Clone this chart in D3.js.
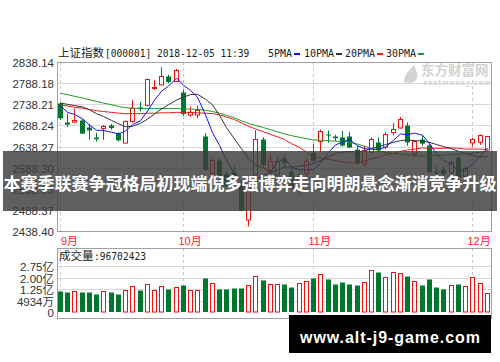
<!DOCTYPE html>
<html>
<head>
<meta charset="utf-8">
<script src="https://cdnjs.cloudflare.com/ajax/libs/d3/7.8.5/d3.min.js"></script>
<style>
  body { margin: 0; background: #fff; }
  svg { display: block; }
  text { font-family: "Liberation Sans", Arial, "Noto Sans CJK SC", sans-serif; }
</style>
</head>
<body>
<div id="canvas"></div>
<script>
"use strict"

/* Configuration variables: drawing */
let svgWidth = 500;
let svgHeight = 362;
let left = 57, right = 491;
let priceTop = 62, priceBottom = 231;
let volTop = 248, volBottom = 312;

/* Trading days shown (MM-DD) */
let dates = ["09-05","09-06","09-07","09-10","09-11","09-12","09-13","09-14","09-17","09-18",
             "09-19","09-20","09-21","09-25","09-26","09-27","09-28",
             "10-08","10-09","10-10","10-11","10-12","10-15","10-16","10-17","10-18","10-19",
             "10-22","10-23","10-24","10-25","10-26","10-29","10-30","10-31",
             "11-01","11-02","11-05","11-06","11-07","11-08","11-09","11-12","11-13","11-14",
             "11-15","11-16","11-19","11-20","11-21","11-22","11-23","11-26","11-27","11-28",
             "11-29","11-30","12-03","12-04","12-05"];

/* Candles (index points) */
let opens  = [2740,2697,2698,2701,2684,2660,2682,2689,2670,2648,2698,2731,2736,2778,2786,2805,2794,
              2768,2715,2714,2662,2576,2606,2574,2578,2551,2466,2571,2655,2582,2572,2608,2580,2540,2575,
              2625,2652,2667,2663,2660,2662,2632,2598,2625,2650,2638,2672,2683,2690,2622,2656,2642,2580,
              2585,2578,2614,2570,2647,2650,2630];
let highs  = [2743,2716,2728,2703,2692,2671,2689,2692,2672,2700,2748,2744,2799,2795,2826,2808,2822,
              2773,2733,2735,2670,2613,2610,2580,2592,2555,2560,2677,2660,2620,2612,2620,2590,2575,2610,
              2645,2678,2676,2666,2675,2673,2640,2640,2660,2660,2672,2694,2708,2695,2653,2665,2648,2594,
              2590,2605,2616,2592,2659,2667,2663];
let lows   = [2701,2684,2696,2668,2655,2650,2654,2678,2650,2646,2695,2721,2733,2772,2783,2788,2791,
              2711,2709,2705,2580,2570,2563,2540,2555,2485,2449,2565,2590,2575,2560,2585,2536,2525,2560,
              2600,2626,2647,2651,2638,2634,2595,2590,2620,2625,2632,2664,2680,2640,2614,2640,2575,2570,
              2567,2570,2558,2560,2638,2642,2628];
let closes = [2705,2692,2702,2670,2677,2656,2687,2683,2654,2699,2729,2727,2797,2780,2806,2792,2820,
              2717,2721,2725,2583,2607,2568,2546,2562,2487,2550,2655,2595,2603,2604,2599,2542,2568,2603,
              2606,2676,2665,2659,2641,2636,2599,2630,2655,2632,2668,2679,2703,2650,2651,2646,2579,2576,
              2575,2602,2567,2588,2655,2666,2662];

/* Volume, in 亿 */
let volumes = [1.14,1.07,1.12,1.07,1.07,0.95,1.12,1.07,0.95,1.18,1.44,1.18,1.61,1.18,1.44,1.27,1.38,
               1.51,1.18,1.18,2.00,1.67,1.27,1.27,1.31,1.31,1.51,2.11,1.83,1.61,1.61,1.61,1.40,1.67,1.80,
               2.00,2.22,1.93,1.61,1.74,1.61,1.54,1.74,2.47,2.34,2.04,2.34,2.28,2.11,1.80,1.51,1.93,1.40,
               1.27,1.51,1.57,1.44,2.04,1.67,1.01];

/* Moving averages */
let ma5  = [2735,2719,2714,2704,2689,2677,2676,2672,2668,2675,2690,2699,2722,2748,2769,2781,2800,
            2783,2771,2755,2713,2671,2641,2606,2573,2554,2543,2560,2570,2578,2601,2611,2589,2583,2583,
            2584,2599,2624,2642,2649,2655,2640,2633,2632,2631,2637,2653,2668,2666,2670,2665,2645,2620,
            2606,2596,2580,2582,2597,2616,2635];
let ma10 = [2741,2738,2735,2732,2725,2716,2709,2700,2692,2685,2686,2693,2703,2715,2727,2737,2748,
            2755,2761,2762,2750,2737,2712,2683,2656,2633,2610,2594,2588,2576,2582,2590,2590,2592,2594,
            2598,2605,2614,2622,2625,2626,2625,2628,2634,2637,2643,2648,2652,2654,2652,2651,2648,2643,
            2638,2633,2627,2622,2617,2614,2614];
let ma20 = [2736,2734,2731,2729,2726,2723,2721,2719,2717,2716,2716,2716,2717,2717,2718,2718,2719,
            2719,2719,2718,2717,2716,2713,2708,2702,2694,2686,2680,2673,2667,2661,2655,2645,2636,2625,
            2613,2611,2608,2605,2602,2599,2601,2604,2609,2613,2619,2622,2627,2630,2632,2635,2634,2634,
            2634,2635,2634,2632,2632,2632,2631];
let ma30 = [2764,2761,2757,2753,2749,2745,2741,2737,2733,2730,2729,2728,2728,2728,2728,2728,2728,
            2727,2727,2726,2724,2721,2717,2712,2706,2699,2693,2688,2683,2678,2673,2668,2664,2660,2657,
            2654,2653,2652,2651,2650,2648,2644,2639,2634,2629,2624,2622,2620,2618,2617,2616,2616,2617,
            2618,2619,2620,2621,2623,2625,2626];

/* Axis ticks and labels */
let priceTicks = [2838.14, 2788.18, 2738.21, 2688.24, 2638.27, 2588.30, 2538.33, 2488.37, 2438.40];
let volTicks = [0.4934, 1.25, 2.00, 2.75];
let volTickLabels = ["4934万", "1.25亿", "2.00亿", "2.75亿"];
let monthTicks = ["09-05", "10-08", "11-01", "12-03"];
let monthLabels = ["9月", "10月", "11月", "12月"];
let maNames = ["5PMA", "10PMA", "20PMA", "30PMA"];

let maColors = ["#1010ff", "#333333", "#f21c1c", "#1f9a2a"];
let upColor = "#f01010";
let downColor = "#00772f";

/* Create drawing canvas */
let svg = d3.select("#canvas")
    .append("svg")
    .attr("width", svgWidth)
    .attr("height", svgHeight);

svg.append("rect")
    .attr("width", svgWidth)
    .attr("height", svgHeight)
    .attr("fill", "white");

/* Scales */
let xScale = d3.scaleBand()
    .domain(dates)
    .range([left, right])
    .paddingInner(0.27)
    .paddingOuter(0.135);

let yScale = d3.scaleLinear()
    .domain([2438.40, 2838.14])
    .range([priceBottom, priceTop]);

let vScale = d3.scaleLinear()
    .domain([0.4934, 2.75])
    .range([301, 266]);

function cx(d) {
    return Math.round(xScale(d)) + 2.5;
}

/* Grid: horizontal price lines */
svg.selectAll("line.pgrid")
    .data(priceTicks)
    .join("line")
    .attr("x1", left)
    .attr("x2", right)
    .attr("y1", d => Math.round(yScale(d)) + 0.5)
    .attr("y2", d => Math.round(yScale(d)) + 0.5)
    .attr("stroke", "#d9d9d9");

/* Grid: horizontal volume lines */
svg.selectAll("line.vgrid")
    .data(volTicks)
    .join("line")
    .attr("x1", left)
    .attr("x2", right)
    .attr("y1", d => Math.round(vScale(d)) + 0.5)
    .attr("y2", d => Math.round(vScale(d)) + 0.5)
    .attr("stroke", "#d9d9d9");

/* Grid: dashed month lines in both panels */
for (let m of monthTicks) {
    for (let [y1, y2] of [[priceTop, priceBottom], [volTop, volBottom]]) {
        svg.append("line")
            .attr("x1", cx(m))
            .attr("x2", cx(m))
            .attr("y1", y1)
            .attr("y2", y2)
            .attr("stroke", "#c8c8c8")
            .attr("stroke-dasharray", "3,3");
    }
}

/* Watermark logo */
let logo = svg.append("g").attr("fill", "#d2d2d2");
logo.append("path")
    .attr("d", "M404,82 C404,74 410,70 415,64 C414,70 419,72 417,78 C416,82 410,84 404,82 Z M407,80 C409,74 413,72 414,68");
logo.append("text")
    .attr("x", 421)
    .attr("y", 75)
    .style("font-family", "Noto Sans CJK SC")
    .style("font-size", "13.5px")
    .style("font-weight", "bold")
    .text("东方财富网");
logo.append("text")
    .attr("x", 423)
    .attr("y", 85)
    .style("font-size", "7.5px")
    .style("font-weight", "bold")
    .attr("textLength", 68)
    .text("eastmoney.com");

/* Candles */
let candles = svg.append("g")
    .selectAll("g")
    .data(dates)
    .join("g");

candles.append("line")
    .attr("x1", d => cx(d))
    .attr("x2", d => cx(d))
    .attr("y1", (d, i) => yScale(highs[i]))
    .attr("y2", (d, i) => yScale(lows[i]))
    .attr("stroke", (d, i) => closes[i] >= opens[i] ? upColor : downColor);

candles.append("rect")
    .attr("x", (d, i) => Math.round(xScale(d)) + (closes[i] >= opens[i] ? 0.5 : 0))
    .attr("width", (d, i) => closes[i] >= opens[i] ? 4 : 5)
    .attr("y", (d, i) => Math.round(yScale(Math.max(opens[i], closes[i]))) + 0.5)
    .attr("height", (d, i) => Math.max(1, Math.abs(yScale(opens[i]) - yScale(closes[i]))))
    .attr("fill", (d, i) => closes[i] >= opens[i] ? "white" : downColor)
    .attr("stroke", (d, i) => closes[i] >= opens[i] ? upColor : "none");

/* Moving average lines */
let maLine = d3.line()
    .x((v, i) => cx(dates[i]))
    .y(v => yScale(v));

[ma30, ma20, ma10, ma5].forEach(function (series, k) {
    svg.append("path")
        .attr("d", maLine(series))
        .attr("fill", "none")
        .attr("stroke", maColors[3 - k])
        .attr("stroke-width", 1);
});

/* Volume bars */
svg.append("g")
    .selectAll("rect")
    .data(dates)
    .join("rect")
    .attr("x", (d, i) => Math.round(xScale(d)) + (closes[i] >= opens[i] ? 0.5 : 0))
    .attr("width", (d, i) => closes[i] >= opens[i] ? 4 : 5)
    .attr("y", (d, i) => Math.round(vScale(volumes[i])) + 0.5)
    .attr("height", (d, i) => volBottom - Math.round(vScale(volumes[i])) - 0.5)
    .attr("fill", (d, i) => closes[i] >= opens[i] ? "white" : downColor)
    .attr("stroke", (d, i) => closes[i] >= opens[i] ? upColor : "none");

/* Panel borders */
for (let [y1, y2] of [[priceTop, priceBottom], [volTop, 318]]) {
    svg.append("rect")
        .attr("x", left + 0.5)
        .attr("y", y1 + 0.5)
        .attr("width", right - left)
        .attr("height", y2 - y1)
        .attr("fill", "none")
        .attr("stroke", "#a0a0a0");
}

/* Price axis labels */
svg.selectAll("text.price")
    .data(priceTicks)
    .join("text")
    .attr("x", 54)
    .attr("y", d => yScale(d) + 5)
    .attr("text-anchor", "end")
    .style("font-size", "11.5px")
    .style("fill", "#333")
    .text(d => d.toFixed(2));

/* Volume axis labels */
svg.selectAll("text.vol")
    .data(volTicks)
    .join("text")
    .attr("x", 54)
    .attr("y", d => vScale(d) + 5)
    .attr("text-anchor", "end")
    .style("font-size", "11.5px")
    .style("fill", "#333")
    .text((d, i) => volTickLabels[i]);

svg.append("text")
    .attr("x", 54)
    .attr("y", volBottom + 5)
    .attr("text-anchor", "end")
    .style("font-size", "11.5px")
    .style("fill", "#333")
    .text("0");

/* Month labels */
monthTicks.forEach(function (m, i) {
    svg.append("text")
        .attr("x", Math.max(cx(m) - 5, 61))
        .attr("y", 245)
        .style("font-size", "11px")
        .style("fill", "#f22")
        .text(monthLabels[i]);
});

/* Title and legend */
svg.append("text")
    .attr("x", 58)
    .attr("y", 57)
    .style("font-family", "Noto Sans CJK SC")
    .style("font-size", "11.5px")
    .style("fill", "#222")
    .text("上证指数");
svg.append("text")
    .attr("x", 105)
    .attr("y", 57)
    .style("font-family", "DejaVu Sans Mono")
    .style("font-size", "9.6px")
    .style("fill", "#222")
    .text("[000001] 2018-12-05 11:39");

let legendX = [268, 304, 345, 386];
maNames.forEach(function (name, i) {
    svg.append("text")
        .attr("x", legendX[i])
        .attr("y", 57)
        .style("font-family", "DejaVu Sans Mono")
        .style("font-size", "10px")
        .style("fill", "#222")
        .text(name);
    svg.append("line")
        .attr("x1", legendX[i] + name.length * 6 + 2)
        .attr("x2", legendX[i] + name.length * 6 + 8)
        .attr("y1", 54)
        .attr("y2", 54)
        .attr("stroke", maColors[i])
        .attr("stroke-width", 2);
});

/* Volume header */
svg.append("text")
    .attr("x", 59)
    .attr("y", 260)
    .style("font-family", "Noto Sans CJK SC")
    .style("font-size", "11.5px")
    .style("fill", "#222")
    .text("成交量");
svg.append("text")
    .attr("x", 94)
    .attr("y", 260)
    .style("font-family", "DejaVu Sans Mono")
    .style("font-size", "9.6px")
    .style("fill", "#222")
    .text(":96702423");

/* Headline banner */
svg.append("rect")
    .attr("x", 3)
    .attr("y", 151)
    .attr("width", 494)
    .attr("height", 60)
    .attr("fill", "#3c3c3c")
    .attr("opacity", 0.82);

svg.append("text")
    .attr("x", 250)
    .attr("y", 190)
    .attr("text-anchor", "middle")
    .style("font-family", "Noto Sans CJK SC")
    .style("font-size", "17px")
    .style("font-weight", "bold")
    .style("fill", "white")
    .text("本赛季联赛争冠格局初现端倪多强博弈走向明朗悬念渐消竞争升级");

/* Footer site box */
svg.append("rect")
    .attr("x", 289)
    .attr("y", 315)
    .attr("width", 202)
    .attr("height", 38)
    .attr("fill", "black");

svg.append("text")
    .attr("x", 390)
    .attr("y", 343)
    .attr("text-anchor", "middle")
    .attr("textLength", 180)
    .style("font-size", "16px")
    .style("font-weight", "bold")
    .style("fill", "white")
    .text("www.alt-j9-game.com");
</script>
</body>
</html>
